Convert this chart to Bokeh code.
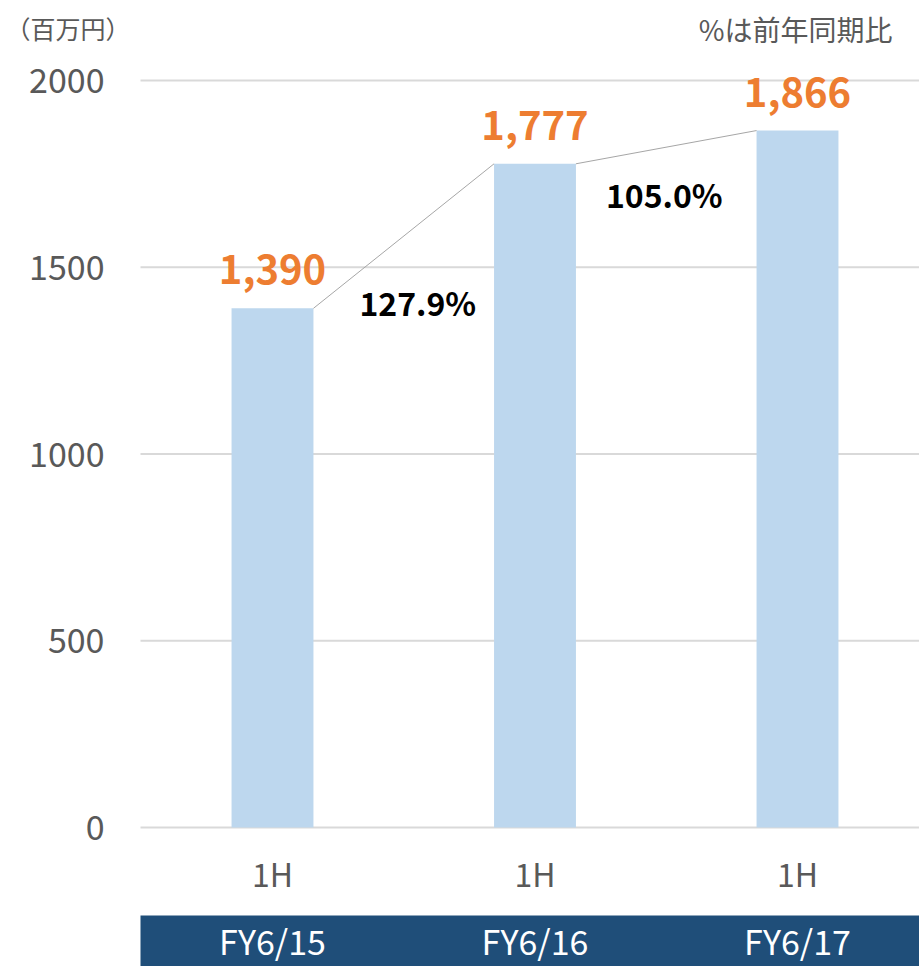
from bokeh.plotting import figure
from bokeh.models import Range1d, FixedTicker, Label, BoxAnnotation, ColumnDataSource
from bokeh.core.properties import value
from bokeh.embed import file_html
from bokeh.resources import INLINE

# ---- data ----
periods = ["1H", "1H", "1H"]
fiscal_years = ["FY6/15", "FY6/16", "FY6/17"]
sales = [1390, 1777, 1866]
growth_labels = ["127.9%", "105.0%"]
y_ticks = [0, 500, 1000, 1500, 2000]

FONT = "Noto Sans CJK JP"
GRAY = "#595959"

# layout constants
W, H = 919, 966
PXU = 747 / 2000.0          # px per unit on y
CAT = 262.5                 # px per category on x
ZERO_PX = 827               # page y of value 0
X0_PX = 140.75              # page x of x=0.5


def xd(px):
    return 0.5 + (px - X0_PX) / CAT


def yd(py):
    return (ZERO_PX - py) / PXU


xs = [i + 1 for i in range(len(sales))]
bar_w = 0.312

p = figure(width=W, height=H, output_backend="svg", toolbar_location=None,
           x_range=Range1d(xd(0), xd(W)), y_range=Range1d(yd(H), yd(0)),
           min_border_left=0, min_border_right=0, min_border_top=0, min_border_bottom=0)
p.outline_line_color = None
p.background_fill_color = "white"
p.border_fill_color = "white"

p.xaxis.visible = False
p.xgrid.visible = False
p.ygrid.visible = False
p.yaxis.fixed_location = xd(140)
p.yaxis.ticker = FixedTicker(ticks=y_ticks)
p.yaxis.axis_line_color = None
p.yaxis.major_tick_line_color = None
p.yaxis.minor_tick_line_color = None
p.yaxis.major_label_text_font = FONT
p.yaxis.major_label_text_font_size = "34px"
p.yaxis.major_label_text_color = GRAY
p.yaxis.major_label_standoff = 30

# horizontal gridlines
p.segment(x0=[xd(140)] * len(y_ticks), x1=[xd(W + 5)] * len(y_ticks), y0=y_ticks, y1=y_ticks,
          line_color="#d9d9d9", line_width=2, level="underlay")

# bars
src = ColumnDataSource(dict(x=xs, top=sales, lab=[f"{v:,}" for v in sales],
                            per=periods, fy=fiscal_years))
p.vbar(x="x", top="top", width=bar_w, source=src, fill_color="#bdd7ee", line_color=None)

# connectors
p.segment(x0=[x + bar_w / 2 for x in xs[:-1]], y0=sales[:-1],
          x1=[x - bar_w / 2 for x in xs[1:]], y1=sales[1:],
          line_color="#a6a6a6", line_width=1)

# value labels
p.text(x="x", y="top", text="lab", source=src, text_align="center", text_baseline="bottom",
       y_offset=-24, text_font=value(FONT), text_font_style="bold",
       text_font_size="40px", text_color="#ed7d31")

# growth labels
gx = [(xs[i] + xs[i + 1]) / 2 for i in range(len(growth_labels))]
gy = [(sales[i] + sales[i + 1]) / 2 for i in range(len(growth_labels))]
p.text(x=gx, y=gy, text=growth_labels, x_offset=[14, -2], y_offset=[66, 47],
       text_align="center", text_baseline="middle", text_font=value(FONT),
       text_font_style="bold", text_font_size="32px", text_color="black")

# period labels
p.text(x="x", y=0, text="per", source=src, y_offset=45, text_align="center",
       text_baseline="middle", text_font=value(FONT), text_font_size="32px", text_color=GRAY)

# fiscal-year band
band_top = yd(915)
p.add_layout(BoxAnnotation(top=band_top, left=xd(140), fill_color="#1f4e79", fill_alpha=1,
                           line_color=None, level="underlay"))
p.text(x="x", y=band_top, text="fy", source=src, y_offset=25, text_align="center",
       text_baseline="middle", text_font=value(FONT), text_font_size="34px", text_color="white")

# header notes
p.add_layout(Label(x=xd(5), y=yd(27), text="（百万円）",
                   text_baseline="middle", text_align="left", text_font=FONT,
                   text_font_size="25px", text_color=GRAY))
p.add_layout(Label(x=xd(892), y=yd(28), text="%は前年同期比",
                   text_baseline="middle", text_align="right", text_font=FONT,
                   text_font_size="28px", text_color=GRAY))

open("out.html", "w").write(file_html(p, INLINE))
